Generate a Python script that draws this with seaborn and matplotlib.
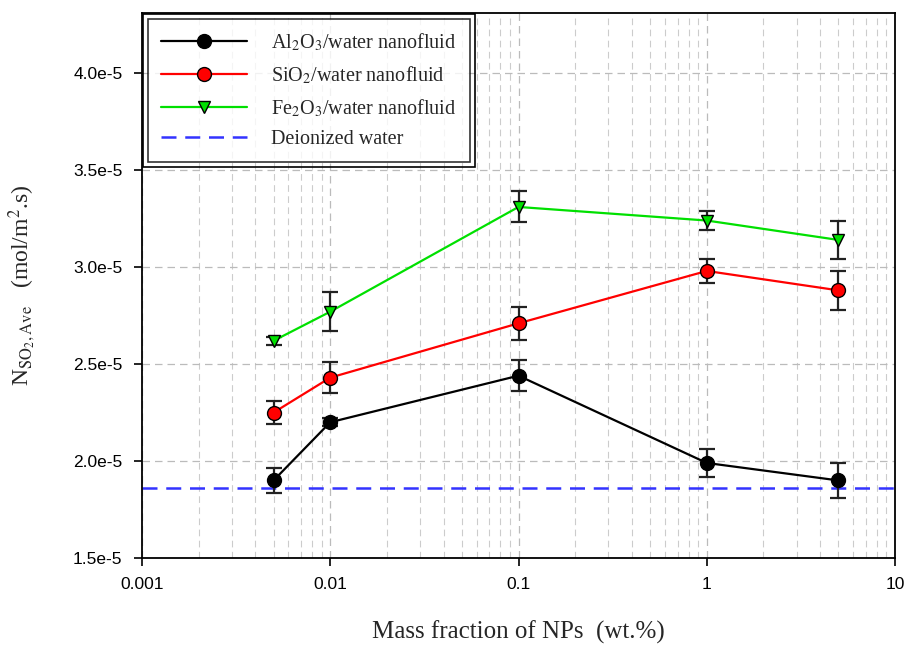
import numpy as np
import pandas as pd
import matplotlib
matplotlib.use("Agg")
import matplotlib.pyplot as plt
import seaborn as sns
from matplotlib.ticker import LogLocator, FixedLocator, NullFormatter
from matplotlib.patches import Rectangle

# ---- data ----
mass_fraction = [0.005, 0.01, 0.1, 1, 5]
al2o3 = [1.90e-5, 2.20e-5, 2.44e-5, 1.99e-5, 1.90e-5]
al2o3_err = [0.065e-5, 0.02e-5, 0.08e-5, 0.07e-5, 0.09e-5]
sio2 = [2.25e-5, 2.43e-5, 2.71e-5, 2.98e-5, 2.88e-5]
sio2_err = [0.06e-5, 0.08e-5, 0.085e-5, 0.06e-5, 0.10e-5]
fe2o3 = [2.62e-5, 2.77e-5, 3.31e-5, 3.24e-5, 3.14e-5]
fe2o3_err = [0.02e-5, 0.10e-5, 0.08e-5, 0.05e-5, 0.10e-5]
deionized = 1.86e-5
series_names = ["Al$_2$O$_3$/water nanofluid", "SiO$_2$/water nanofluid",
                "Fe$_2$O$_3$/water nanofluid"]
x_ticks = [0.001, 0.01, 0.1, 1, 10]
x_tick_labels = ["0.001", "0.01", "0.1", "1", "10"]
y_ticks = [1.5e-5, 2.0e-5, 2.5e-5, 3.0e-5, 3.5e-5, 4.0e-5]
y_tick_labels = ["1.5e-5", "2.0e-5", "2.5e-5", "3.0e-5", "3.5e-5", "4.0e-5"]

sns.set_theme(style="white")
plt.rcParams['font.family'] = ['Liberation Sans', 'DejaVu Sans']
plt.rcParams['mathtext.fontset'] = 'stix'

rows = []
for name, vals in zip(series_names, [al2o3, sio2, fe2o3]):
    for xv, yv in zip(mass_fraction, vals):
        rows.append({"x": xv, "y": yv, "series": name})
df = pd.DataFrame(rows)

W, H = 914, 646
fig = plt.figure(figsize=(W / 100, H / 100), dpi=100)
ax = fig.add_axes([142 / W, 1 - 558 / H, (895 - 142) / W, (558 - 13) / H])

colors = dict(zip(series_names, ["#000000", "#ff0000", "#00e000"]))
markers = dict(zip(series_names, ["o", "o", "v"]))

for name, vals, errs in zip(series_names, [al2o3, sio2, fe2o3],
                            [al2o3_err, sio2_err, fe2o3_err]):
    ax.errorbar(mass_fraction, vals, yerr=errs, fmt="none", ecolor="#222222",
                elinewidth=1.6, capsize=6, capthick=1.6, zorder=3)

for name in series_names:
    sub = df[df["series"] == name]
    sns.lineplot(data=sub, x="x", y="y", ax=ax, color=colors[name],
                 marker=markers[name], markersize=10 if markers[name] == "o" else 9,
                 markerfacecolor=colors[name], markeredgecolor="black",
                 markeredgewidth=1.0, linewidth=1.6, label=name, zorder=4)

ax.axhline(deionized, color="#3333ff", linestyle=(0, (6, 3.5)), linewidth=1.8,
           label="Deionized water", zorder=2)

ax.set_xscale("log")
ax.set_xlim(0.001, 10)
ax.set_ylim(1.5e-5, 4.31e-5)
ax.xaxis.set_major_locator(FixedLocator(x_ticks))
ax.set_xticklabels(x_tick_labels)
ax.xaxis.set_minor_locator(LogLocator(base=10, subs=np.arange(2, 10), numticks=20))
ax.xaxis.set_minor_formatter(NullFormatter())
ax.set_yticks(y_ticks)
ax.set_yticklabels(y_tick_labels)

ax.grid(True, which="major", axis="both", color="#bbbbbb", linestyle=(0, (6, 4)), linewidth=0.9)
ax.grid(True, which="minor", axis="x", color="#cccccc", linestyle=(0, (6, 4)), linewidth=0.8)
ax.set_axisbelow(True)

for s in ax.spines.values():
    s.set_visible(True)
    s.set_color("black")
    s.set_linewidth(1.3)

ax.tick_params(axis="both", which="major", direction="out", length=6, width=1.2,
               labelsize=12.5, colors="black", bottom=True, left=True, pad=8)
ax.tick_params(axis="x", which="minor", bottom=False)

ax.set_xlabel("Mass fraction of NPs  (wt.%)", fontsize=18, fontfamily="Liberation Serif",
              labelpad=20)
ax.set_ylabel("N$_{\\mathrm{SO_2,Ave}}$   (mol/m$^2$.s)", fontsize=17,
              fontfamily="Liberation Serif", labelpad=26)

leg = ax.legend(loc="upper left", frameon=True,
                fancybox=False, edgecolor="black",
                prop={"family": "Liberation Serif", "size": 14.5},
                handlelength=4.3, borderpad=0.65, labelspacing=0.55,
                handletextpad=1.2, borderaxespad=0.28)
leg.get_frame().set_linewidth(1.2)
leg.set_zorder(10)

# outer line of the double legend frame
fig.canvas.draw()
bb = leg.get_window_extent()
pad = 5
outer = Rectangle((bb.x0 - pad, bb.y0 - pad), bb.width + 2 * pad, bb.height + 2 * pad,
                  transform=None, fill=False, edgecolor="black", linewidth=1.2,
                  zorder=11)
fig.add_artist(outer)

fig.savefig("out.png", dpi=100)
